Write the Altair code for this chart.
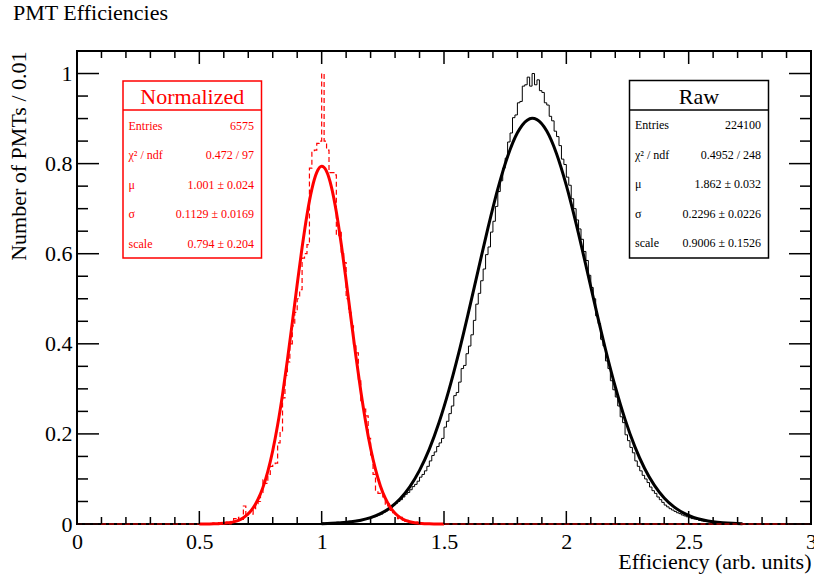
import pandas as pd
import altair as alt

# ---------------- text ----------------
chart_title = "PMT Efficiencies"
x_title = "Efficiency (arb. units)"
y_title = "Number of PMTs / 0.01"

# ---------------- axis ticks ----------------
x_major_ticks = [0, 0.5, 1, 1.5, 2, 2.5, 3]
x_minor_ticks = [round(0.1 * i, 2) for i in range(31) if i % 5 != 0]
y_major_ticks = [0, 0.2, 0.4, 0.6, 0.8, 1.0]
y_minor_ticks = [round(0.05 * i, 2) for i in range(21) if i % 4 != 0]

# ---------------- histograms (bin width 0.01) ----------------
bin_width = 0.01
raw_start = 1.00
raw_counts = [
    0.002, 0.001, 0.003, 0.002, 0.003, 0.002, 0.004, 0.003, 0.004, 0.005,
    0.005, 0.006, 0.005, 0.007, 0.008, 0.007, 0.009, 0.010, 0.011, 0.012,
    0.014, 0.016, 0.018, 0.020, 0.022, 0.026, 0.029, 0.033, 0.037, 0.042,
    0.046, 0.050, 0.054, 0.060, 0.066, 0.070, 0.076, 0.083, 0.088, 0.095,
    0.104, 0.110, 0.118, 0.128, 0.140, 0.152, 0.160, 0.172, 0.180, 0.190,
    0.215, 0.228, 0.245, 0.262, 0.285, 0.292, 0.315, 0.345, 0.352, 0.378,
    0.395, 0.420, 0.452, 0.488, 0.512, 0.540, 0.566, 0.598, 0.615, 0.648,
    0.672, 0.705, 0.738, 0.762, 0.790, 0.812, 0.848, 0.868, 0.902, 0.908,
    0.935, 0.938, 0.972, 0.975, 0.992, 0.972, 1.000, 0.975, 0.986, 0.962,
    0.958, 0.935, 0.930, 0.905, 0.895, 0.872, 0.860, 0.840, 0.810, 0.798,
    0.770, 0.752, 0.722, 0.700, 0.675, 0.655, 0.632, 0.605, 0.585, 0.552,
    0.525, 0.500, 0.462, 0.445, 0.410, 0.395, 0.362, 0.345, 0.318, 0.298,
    0.282, 0.262, 0.238, 0.225, 0.198, 0.185, 0.170, 0.158, 0.140, 0.128,
    0.118, 0.108, 0.100, 0.092, 0.082, 0.074, 0.068, 0.060, 0.054, 0.048,
    0.042, 0.038, 0.034, 0.031, 0.028, 0.025, 0.023, 0.020, 0.018, 0.016,
    0.014, 0.012, 0.011, 0.010, 0.008, 0.007, 0.006, 0.006, 0.005, 0.004,
    0.004, 0.003, 0.003, 0.002, 0.002, 0.002, 0.001, 0.001, 0.001, 0.001,
    0.001, 0.001, 0.000, 0.001, 0.000, 0.000, 0.001, 0.000, 0.000, 0.000,
]
norm_start = 0.55
norm_counts = [
    0.002, 0.000, 0.003, 0.000, 0.002,
    0.003, 0.004, 0.000, 0.006, 0.012, 0.008, 0.015, 0.010, 0.040, 0.018,
    0.025, 0.022, 0.030, 0.045, 0.050, 0.070, 0.098, 0.090, 0.110, 0.128,
    0.134, 0.135, 0.180, 0.205, 0.280, 0.330, 0.360, 0.400, 0.440, 0.470,
    0.500, 0.520, 0.590, 0.600, 0.620, 0.790, 0.825, 0.830, 0.845, 0.850,
    1.000, 0.850, 0.830, 0.780, 0.780, 0.775, 0.640, 0.650, 0.600, 0.580,
    0.500, 0.470, 0.440, 0.400, 0.380, 0.320, 0.270, 0.255, 0.240, 0.190,
    0.150, 0.110, 0.075, 0.068, 0.065, 0.060, 0.040, 0.045, 0.030, 0.025,
    0.020, 0.012, 0.015, 0.008, 0.006, 0.008, 0.004, 0.003, 0.005, 0.002,
    0.002, 0.000, 0.001, 0.000, 0.001,
]

# ---------------- fitted curves ----------------
raw_fit_x = [1.00, 1.04, 1.08, 1.12, 1.16, 1.20, 1.24, 1.28, 1.32, 1.36, 1.40,
             1.44, 1.48, 1.52, 1.56, 1.60, 1.64, 1.68, 1.72, 1.76, 1.80, 1.84,
             1.86,
             1.88, 1.92, 1.96, 2.00, 2.04, 2.08, 2.12, 2.16, 2.20, 2.24, 2.28,
             2.32, 2.36, 2.40, 2.44, 2.48, 2.52, 2.56, 2.60, 2.64, 2.68, 2.72]
raw_fit_y = [0.0008, 0.0015, 0.0027, 0.0049, 0.0084, 0.0141, 0.0229, 0.0362,
             0.0555, 0.0825, 0.1190, 0.1663, 0.2257, 0.2970, 0.3791, 0.4697,
             0.5643, 0.6578, 0.7439, 0.8159, 0.8684, 0.8965,
             0.9005,
             0.8978, 0.8723, 0.8221, 0.7517, 0.6668, 0.5739, 0.4791, 0.3879,
             0.3047, 0.2323, 0.1717, 0.1232, 0.0857, 0.0578, 0.0379, 0.0241,
             0.0148, 0.0089, 0.0051, 0.0029, 0.0016, 0.0008]
norm_fit_x = [0.50, 0.52, 0.54, 0.56, 0.58, 0.60, 0.62, 0.64, 0.66, 0.68, 0.70,
              0.72, 0.74, 0.76, 0.78, 0.80, 0.82, 0.84, 0.86, 0.88, 0.90, 0.92,
              0.94, 0.96, 0.98, 1.00, 1.02, 1.04, 1.06, 1.08, 1.10, 1.12, 1.14,
              1.16, 1.18, 1.20, 1.22, 1.24, 1.26, 1.28, 1.30, 1.32, 1.34, 1.36,
              1.38, 1.40, 1.42, 1.44, 1.46, 1.48, 1.50]
norm_fit_y = [0.0000, 0.0001, 0.0002, 0.0004, 0.0008, 0.0014, 0.0027, 0.0048,
              0.0083, 0.0140, 0.0227, 0.0358, 0.0549, 0.0813, 0.1170, 0.1627,
              0.2196, 0.2872, 0.3640, 0.4470, 0.5321, 0.6138, 0.6862, 0.7433,
              0.7804, 0.7940, 0.7828, 0.7480, 0.6927, 0.6216, 0.5406, 0.4556,
              0.3721, 0.2946, 0.2260, 0.1680, 0.1210, 0.0845, 0.0572, 0.0375,
              0.0238, 0.0147, 0.0087, 0.0051, 0.0028, 0.0015, 0.0008, 0.0004,
              0.0002, 0.0001, 0.0000]

# ---------------- stats boxes ----------------
stat_labels = ["Entries", "\u03c7\u00b2 / ndf", "\u03bc", "\u03c3", "scale"]
norm_header = "Normalized"
norm_stats = ["6575", "0.472 / 97", "1.001 \u00b1 0.024", "0.1129 \u00b1 0.0169", "0.794 \u00b1 0.204"]
raw_header = "Raw"
raw_stats = ["224100", "0.4952 / 248", "1.862 \u00b1 0.032", "0.2296 \u00b1 0.0226", "0.9006 \u00b1 0.1526"]

# ---------------- build ----------------
RED = "#ff0000"
FONT = "Liberation Serif"
W, H = 734, 473
xs = alt.Scale(domain=[0, 3], nice=False, zero=False)
ys = alt.Scale(domain=[0, 1.05], nice=False, zero=False)

x_axis = alt.Axis(values=x_major_ticks, format="~g", ticks=False, tickSize=0, domain=False, grid=False,
                  labelFont=FONT, labelFontSize=22, labelColor="black", labelPadding=7,
                  labelFlush=False, labelBaseline="top",
                  title=x_title, titleFont=FONT, titleFontSize=22, titleFontWeight="normal",
                  titleColor="black", titleX=W, titleY=44, titleAlign="right", titleAnchor="end",
                  titleBaseline="alphabetic")
y_axis = alt.Axis(values=y_major_ticks, format="~g", ticks=False, tickSize=0, domain=False, grid=False,
                  labelFont=FONT, labelFontSize=22, labelColor="black", labelPadding=5,
                  labelFlush=False, labelBaseline="middle",
                  title=y_title, titleFont=FONT, titleFontSize=22, titleFontWeight="normal",
                  titleColor="black", titleAngle=270, titleX=-52, titleY=0, titleAlign="right",
                  titleAnchor="end", titleBaseline="alphabetic")

XF = alt.X("x:Q", scale=xs, axis=x_axis, title=x_title)
YF = alt.Y("y:Q", scale=ys, axis=y_axis, title=y_title)


def step_frame(start, counts):
    n = len(counts)
    xv = [0.0] + [round(start + bin_width * i, 4) for i in range(n)] + [round(start + bin_width * n, 4), 3.0]
    yv = [0.0] + list(counts) + [0.0, 0.0]
    return pd.DataFrame({"x": xv, "y": yv})


raw_hist = alt.Chart(step_frame(raw_start, raw_counts)).mark_line(
    interpolate="step-after", color="black", strokeWidth=1
).encode(x=XF, y=YF)

norm_hist = alt.Chart(step_frame(norm_start, norm_counts)).mark_line(
    interpolate="step-after", color=RED, strokeWidth=1.2, strokeDash=[5, 3]
).encode(x=XF, y=YF)

raw_fit = alt.Chart(pd.DataFrame({"x": raw_fit_x, "y": raw_fit_y})).mark_line(
    interpolate="monotone", color="black", strokeWidth=3
).encode(x=XF, y=YF)

norm_fit = alt.Chart(pd.DataFrame({"x": norm_fit_x, "y": norm_fit_y})).mark_line(
    interpolate="monotone", color=RED, strokeWidth=3
).encode(x=XF, y=YF)


# ticks (inward, on all four sides)
def xticks(vals, length):
    df = pd.DataFrame({"x": vals})
    bottom = alt.Chart(df).mark_rule(color="black", strokeWidth=1.5).encode(
        x=XF, y=alt.value(H), y2=alt.value(H - length))
    top = alt.Chart(df).mark_rule(color="black", strokeWidth=1.5).encode(
        x=XF, y=alt.value(0), y2=alt.value(length))
    return [bottom, top]


def yticks(vals, length):
    df = pd.DataFrame({"y": vals})
    left = alt.Chart(df).mark_rule(color="black", strokeWidth=1.5).encode(
        y=YF, x=alt.value(0), x2=alt.value(length))
    right = alt.Chart(df).mark_rule(color="black", strokeWidth=1.5).encode(
        y=YF, x=alt.value(W), x2=alt.value(W - length))
    return [left, right]


tick_layers = xticks(x_major_ticks, 13) + xticks(x_minor_ticks, 7) + \
    yticks(y_major_ticks, 22) + yticks(y_minor_ticks, 11)


def stats_box(header, values, color, x0, x1, y0, y1, ysep):
    one = pd.DataFrame({"h": [header], "l": ["\n".join(stat_labels)], "v": ["\n".join(values)]})
    base = alt.Chart(one)
    box = base.mark_rect(fill="white", stroke=color, strokeWidth=1.5).encode(
        x=alt.value(x0), x2=alt.value(x1), y=alt.value(y0), y2=alt.value(y1))
    sep = base.mark_rule(color=color, strokeWidth=1.5).encode(
        x=alt.value(x0), x2=alt.value(x1), y=alt.value(ysep))
    head = base.mark_text(font=FONT, fontSize=22, color=color, align="center", baseline="alphabetic").encode(
        text="h:N", x=alt.value((x0 + x1) / 2), y=alt.value(y0 + 23))
    labs = base.mark_text(font=FONT, fontSize=12, color=color, align="left", baseline="alphabetic",
                          lineBreak="\n", lineHeight=29.5).encode(
        text="l:N", x=alt.value(x0 + 5.5), y=alt.value(y0 + 48.5))
    vals = base.mark_text(font=FONT, fontSize=12, color=color, align="right", baseline="alphabetic",
                          lineBreak="\n", lineHeight=29.5).encode(
        text="v:N", x=alt.value(x1 - 7.5), y=alt.value(y0 + 48.5))
    return [box, sep, head, labs, vals]


norm_box = stats_box(norm_header, norm_stats, RED, 46, 184.5, 30, 207, 59)
raw_box = stats_box(raw_header, raw_stats, "black", 552.5, 691.5, 29.5, 207, 59)

title_mark = alt.Chart(pd.DataFrame({"t": [chart_title]})).mark_text(
    font=FONT, fontSize=22, color="black", align="left", baseline="alphabetic"
).encode(text="t:N", x=alt.value(-64), y=alt.value(-31))

chart = alt.layer(
    raw_hist, raw_fit, norm_hist, norm_fit, *tick_layers, *norm_box, *raw_box, title_mark
).properties(
    width=W, height=H,
    padding={"left": 77, "top": 51, "right": 3, "bottom": 56},
    autosize=alt.AutoSizeParams(type="none"),
    background="white",
).configure_view(stroke="black", strokeWidth=2)

chart.save("out.html", embed_options={"renderer": "svg", "actions": False})
